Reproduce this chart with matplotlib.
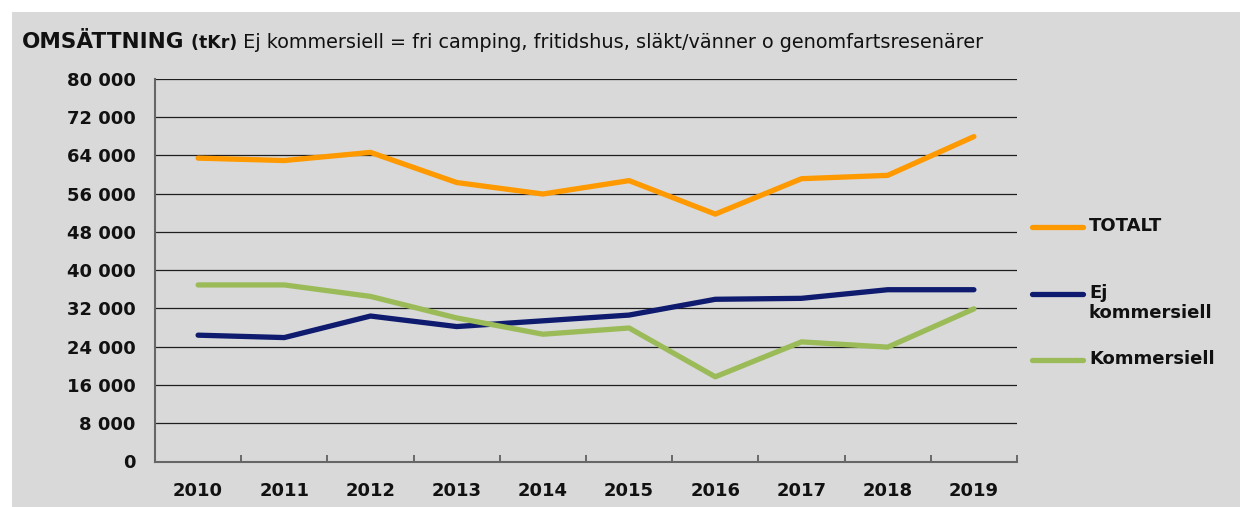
import matplotlib.pyplot as plt
import matplotlib.patches as patches
from matplotlib.lines import Line2D
from matplotlib.ticker import FuncFormatter, FixedLocator

plt.rcParams['font.family'] = ['DejaVu Sans']

# data (tKr)
years = ['2010', '2011', '2012', '2013', '2014', '2015', '2016', '2017', '2018', '2019']
totalt = [63400, 62900, 64600, 58300, 55900, 58700, 51700, 59100, 59800, 67900]
ej_kommersiell = [26400, 25900, 30400, 28200, 29400, 30600, 33900, 34100, 35900, 35900]
kommersiell = [36900, 36900, 34500, 30000, 26600, 27900, 17700, 25000, 23900, 31900]

series_labels = ['TOTALT', 'Ej\nkommersiell', 'Kommersiell']
series_colors = ['#FF9900', '#0E1B6E', '#9BBB59']

W, H = 1240, 507
fig = plt.figure(figsize=(W / 100, H / 100), dpi=100)
fig.patch.set_facecolor('white')

# grå bakgrundsruta
fig.patches.append(patches.Rectangle((12 / W, 0), 1 - 12 / W, (H - 12) / H,
                                     transform=fig.transFigure, facecolor='#D9D9D9',
                                     edgecolor='none', zorder=-5))

ax = fig.add_axes([155 / W, (H - 461.5) / H, (1017 - 155) / W, (461.5 - 78.7) / H])
ax.set_facecolor('none')
ax.set_zorder(2)

x = list(range(len(years)))
for vals, col in zip([totalt, ej_kommersiell, kommersiell], series_colors):
    ax.plot(x, vals, color=col, linewidth=3.8, solid_capstyle='round', zorder=3)

ax.set_xlim(-0.5, len(years) - 0.5)
ax.set_ylim(0, 80000)
ax.set_yticks(range(0, 80001, 8000))
ax.yaxis.set_major_formatter(FuncFormatter(lambda v, p: f'{int(v):,}'.replace(',', ' ')))
ax.grid(axis='y', color='#1E1E1E', linewidth=0.9, zorder=1)
ax.set_axisbelow(True)

ax.set_xticks(x)
ax.set_xticklabels(years)
ax.xaxis.set_minor_locator(FixedLocator([i + 0.5 for i in range(len(years))]))
ax.tick_params(axis='x', which='major', length=0, pad=15)
ax.tick_params(axis='x', which='minor', length=5, direction='in', color='#606060', width=1.3)
ax.tick_params(axis='y', length=0, pad=14)
for lab in ax.get_xticklabels() + ax.get_yticklabels():
    lab.set_fontsize(13)
    lab.set_fontweight('bold')
    lab.set_color('#111111')

for s in ['top', 'right']:
    ax.spines[s].set_visible(False)
for s in ['left', 'bottom']:
    ax.spines[s].set_color('#666666')
    ax.spines[s].set_linewidth(1.5)

# legend
leg_y = [227, 294, 360]
for lab, col, yy in zip(series_labels, series_colors, leg_y):
    fy = (H - yy) / H
    fig.lines.append(Line2D([1032 / W, 1083 / W], [fy, fy], transform=fig.transFigure,
                            color=col, linewidth=3.8, solid_capstyle='round'))
    fig.text(1089 / W, (H - yy + 10) / H, lab, ha='left', va='top', fontsize=13,
             fontweight='bold', color='#111111', linespacing=1.15)

# title in pieces
fig.canvas.draw()
renderer = fig.canvas.get_renderer()
base_y = (H - 48) / H
xpos = 22 / W
pieces = [('OMSÄTTNING', 15.5, 'bold'), (' (tKr)', 12.5, 'bold'),
          (' Ej kommersiell = fri camping, fritidshus, släkt/vänner o genomfartsresenärer', 13.9, 'normal')]
for txt, fs, fw in pieces:
    t = fig.text(xpos, base_y, txt, ha='left', va='baseline', fontsize=fs, fontweight=fw,
                 color='#111111')
    bb = t.get_window_extent(renderer)
    xpos = bb.x1 / W

fig.savefig('out.png', dpi=100)
